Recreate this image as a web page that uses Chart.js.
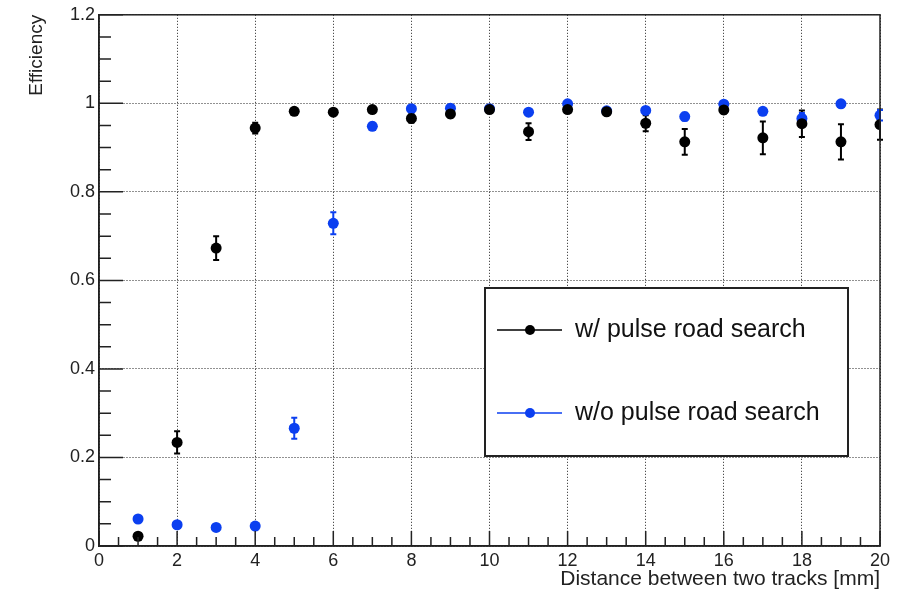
<!DOCTYPE html>
<html>
<head>
<meta charset="utf-8">
<script src="https://cdn.jsdelivr.net/npm/chart.js@4/dist/chart.umd.min.js"></script>
<style>
  html, body { margin: 0; padding: 0; background: #fff; }
  #wrap { width: 905px; height: 592px; }
</style>
</head>
<body>
<div id="wrap"><canvas id="effChart"></canvas></div>
<script>
// distance between the two tracks [mm]
const distances = [1, 2, 3, 4, 5, 6, 7, 8, 9, 10, 11, 12, 13, 14, 15, 16, 17, 18, 19, 20];

// efficiency with pulse road search (black) and its error
const effWith = [0.022, 0.234, 0.673, 0.944, 0.982, 0.980, 0.986, 0.966, 0.976, 0.986,
                 0.936, 0.986, 0.981, 0.955, 0.913, 0.985, 0.922, 0.954, 0.913, 0.952];
const errWith = [0.005, 0.025, 0.027, 0.012, 0.005, 0.005, 0.005, 0.010, 0.008, 0.005,
                 0.019, 0.005, 0.006, 0.018, 0.029, 0.008, 0.037, 0.030, 0.040, 0.034];

// efficiency without pulse road search (blue) and its error
const effWithout = [0.061, 0.048, 0.042, 0.045, 0.266, 0.729, 0.948, 0.988, 0.989, 0.988,
                    0.980, 0.999, 0.983, 0.984, 0.970, 0.998, 0.982, 0.966, 0.999, 0.973];
const errWithout = [0.006, 0.006, 0.006, 0.006, 0.024, 0.025, 0.008, 0.004, 0.004, 0.004,
                    0.005, 0.002, 0.005, 0.006, 0.009, 0.002, 0.007, 0.012, 0.002, 0.012];

const seriesLabels = ["w/ pulse road search", "w/o pulse road search"];
const xTitle = "Distance between two tracks [mm]";
const yTitle = "Efficiency";

const BLACK = "#000000";
const BLUE = "#0b3ff0";
const FONT = "'Liberation Sans', Arial, Helvetica, sans-serif";

function toPoints(ys) {
    return distances.map((d, i) => ({ x: d, y: ys[i] }));
}

// vertical error bars with small caps, drawn under the markers
const errorBars = {
    id: "errorBars",
    beforeDatasetsDraw(chart) {
        const ctx = chart.ctx;
        const xs = chart.scales.x, ys = chart.scales.y;
        const errs = [errWith, errWithout];
        chart.data.datasets.forEach((ds, k) => {
            ctx.save();
            ctx.strokeStyle = ds.backgroundColor;
            ctx.lineWidth = 2;
            ds.data.forEach((p, i) => {
                const px = xs.getPixelForValue(p.x);
                const top = ys.getPixelForValue(p.y + errs[k][i]);
                const bot = ys.getPixelForValue(p.y - errs[k][i]);
                ctx.beginPath();
                ctx.moveTo(px, top); ctx.lineTo(px, bot);
                ctx.moveTo(px - 3, top); ctx.lineTo(px + 3, top);
                ctx.moveTo(px - 3, bot); ctx.lineTo(px + 3, bot);
                ctx.stroke();
            });
            ctx.restore();
        });
    }
};

// ROOT style frame with inward major/minor ticks, plus the legend box
const rootFrame = {
    id: "rootFrame",
    afterDraw(chart) {
        const ctx = chart.ctx;
        const a = chart.chartArea;
        const xs = chart.scales.x, ys = chart.scales.y;
        ctx.save();
        ctx.strokeStyle = "#222";
        ctx.lineWidth = 1.5;
        ctx.strokeRect(a.left, a.top, a.right - a.left, a.bottom - a.top);

        ctx.beginPath();
        // x ticks every 0.5, major every 2
        for (let v = 0; v <= 20.001; v += 0.5) {
            const px = xs.getPixelForValue(v);
            const len = (Math.abs(v / 2 - Math.round(v / 2)) < 1e-6) ? 15 : 9;
            ctx.moveTo(px, a.bottom); ctx.lineTo(px, a.bottom - len);
        }
        // y ticks every 0.05, major every 0.2
        for (let j = 0; j <= 24; j++) {
            const py = ys.getPixelForValue(j * 0.05);
            const len = (j % 4 === 0) ? 24 : 12;
            ctx.moveTo(a.left, py); ctx.lineTo(a.left + len, py);
        }
        ctx.stroke();

        // legend
        const bx = 485, by = 288, bw = 363, bh = 168;
        ctx.fillStyle = "#fff";
        ctx.fillRect(bx, by, bw, bh);
        ctx.lineWidth = 2;
        ctx.strokeStyle = "#222";
        ctx.strokeRect(bx, by, bw, bh);
        const rows = [330, 413];
        chart.data.datasets.forEach((ds, k) => {
            const y = rows[k];
            ctx.strokeStyle = ds.backgroundColor;
            ctx.lineWidth = 1.5;
            ctx.beginPath();
            ctx.moveTo(497, y); ctx.lineTo(562, y);
            ctx.stroke();
            ctx.fillStyle = ds.backgroundColor;
            ctx.beginPath();
            ctx.arc(530, y, 5, 0, Math.PI * 2);
            ctx.fill();
            ctx.fillStyle = "#111";
            ctx.font = "25px " + FONT;
            ctx.textBaseline = "middle";
            ctx.textAlign = "left";
            ctx.fillText(ds.label, 575, y);
        });
        ctx.restore();
    }
};

new Chart(document.getElementById("effChart"), {
    type: "scatter",
    data: {
        datasets: [
            {
                label: seriesLabels[0],
                data: toPoints(effWith),
                backgroundColor: BLACK,
                borderColor: BLACK,
                pointRadius: 5.5,
                pointBorderWidth: 0
            },
            {
                label: seriesLabels[1],
                data: toPoints(effWithout),
                backgroundColor: BLUE,
                borderColor: BLUE,
                pointRadius: 5.5,
                pointBorderWidth: 0
            }
        ]
    },
    options: {
        responsive: true,
        maintainAspectRatio: false,
        animation: false,
        events: [],
        layout: { padding: { top: 13, right: 25, left: 0, bottom: 0 } },
        plugins: {
            legend: { display: false },
            tooltip: { enabled: false }
        },
        scales: {
            x: {
                type: "linear",
                min: 0,
                max: 20,
                afterFit(scale) { scale.height = 46; },
                ticks: {
                    stepSize: 2,
                    autoSkip: false,
                    maxRotation: 0,
                    padding: 4,
                    color: "#222",
                    font: { family: FONT, size: 18 }
                },
                grid: { color: "#222", lineWidth: 1, drawTicks: false },
                border: { display: true, color: "#222", width: 1.5, dash: [1, 2] },
                title: {
                    display: true,
                    text: xTitle,
                    align: "end",
                    color: "#222",
                    padding: { top: 0, bottom: 0 },
                    font: { family: FONT, size: 21 }
                }
            },
            y: {
                type: "linear",
                min: 0,
                max: 1.2,
                afterFit(scale) { scale.width = 99; },
                ticks: {
                    stepSize: 0.2,
                    padding: 4,
                    color: "#222",
                    font: { family: FONT, size: 18 },
                    callback: v => String(+v.toFixed(1))
                },
                grid: { color: "#222", lineWidth: 1, drawTicks: false },
                border: { display: true, color: "#222", width: 1.5, dash: [1, 2] },
                title: {
                    display: true,
                    text: yTitle,
                    align: "end",
                    color: "#222",
                    padding: { top: 25, bottom: 0 },
                    font: { family: FONT, size: 19 }
                }
            }
        }
    },
    plugins: [errorBars, rootFrame]
});
</script>
</body>
</html>
